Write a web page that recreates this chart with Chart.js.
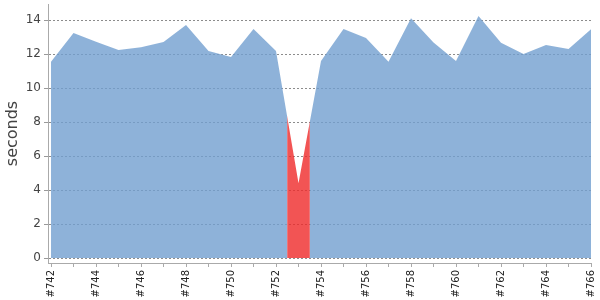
<!DOCTYPE html>
<html><head><meta charset="utf-8">
<script src="https://cdn.jsdelivr.net/npm/chart.js@4/dist/chart.umd.min.js"></script>
<style>html,body{margin:0;padding:0;background:#fff}#wrap{width:600px;height:300px}</style>
</head><body><div id="wrap"><canvas id="c" width="600" height="300"></canvas></div>
<script>
const builds = ['#742','#743','#744','#745','#746','#747','#748','#749','#750','#751','#752','#753','#754','#755','#756','#757','#758','#759','#760','#761','#762','#763','#764','#765','#766'];
const durations = [11.56,13.25,12.74,12.25,12.41,12.72,13.72,12.19,11.84,13.49,12.19,4.41,11.6,13.49,12.96,11.56,14.12,12.7,11.6,14.25,12.68,12.02,12.55,12.31,13.47];
const failedBuilds = ['#753'];
const yTicks = [0,2,4,6,8,10,12,14];
const xLabelEvery = 2;

const failIdx = failedBuilds.map(b => builds.indexOf(b));
const points = durations.map((v, i) => ({x: i, y: v}));

function applyClip(chart, dsIndex) {
  const {ctx, chartArea: a, scales: {x}} = chart;
  const ds = chart.data.datasets[dsIndex];
  ctx.save();
  ctx.beginPath();
  if (!ds.failedOnly) ctx.rect(a.left, 0, a.right - a.left, chart.height);
  failIdx.forEach(i => {
    const l = x.getPixelForValue(i - 0.5), r = x.getPixelForValue(i + 0.5);
    ctx.rect(l, 0, r - l, chart.height);
  });
  ctx.clip('evenodd');
}
const columnClip = {
  id: 'columnClip',
  beforeDatasetsDraw(chart) {
    const m = chart.getSortedVisibleDatasetMetas();
    applyClip(chart, m[m.length - 1].index);
  },
  afterDatasetDraw(chart, args) {
    chart.ctx.restore();
    const m = chart.getSortedVisibleDatasetMetas();
    const pos = m.findIndex(mm => mm.index === args.index);
    if (pos > 0) applyClip(chart, m[pos - 1].index);
  }
};

const FONT = 'DejaVu Sans';
new Chart(document.getElementById('c'), {
  type: 'line',
  data: {
    datasets: [
      {label: 'failed', failedOnly: true, data: points, fill: 'origin', backgroundColor: 'rgba(239,41,41,0.8)', borderWidth: 0, pointRadius: 0, tension: 0},
      {label: 'duration', data: points, fill: 'origin', backgroundColor: 'rgba(114,159,207,0.8)', borderWidth: 0, pointRadius: 0, tension: 0}
    ]
  },
  plugins: [columnClip],
  options: {
    responsive: false,
    devicePixelRatio: 1,
    animation: false,
    layout: {padding: {top: 4, right: 9, left: 0, bottom: 0}},
    plugins: {legend: {display: false}, tooltip: {enabled: false}},
    scales: {
      x: {
        type: 'linear',
        min: -0.134,
        max: builds.length - 1,
        afterBuildTicks: s => { s.ticks = builds.map((_, i) => ({value: i})); },
        afterFit: s => { s.height = 37; s.paddingLeft = 0; s.paddingRight = 0; },
        grid: {drawOnChartArea: false, drawTicks: true, tickLength: 4, color: '#aaa'},
        border: {display: true, color: '#aaa'},
        ticks: {
          autoSkip: false, minRotation: 90, maxRotation: 90, padding: 3,
          color: '#222', font: {family: FONT, size: 10},
          callback: v => (Number.isInteger(v) && v % xLabelEvery === 0) ? builds[v] : ''
        }
      },
      y: {
        min: -0.29,
        max: 14.96,
        afterBuildTicks: s => { s.ticks = yTicks.map(v => ({value: v})); },
        afterFit: s => { s.width = 48; s.paddingTop = 0; s.paddingBottom = 0; },
        grid: {color: 'rgba(0,0,0,0.45)', tickColor: '#999', tickLength: 4, lineWidth: 1},
        border: {display: true, color: '#aaa', dash: [2, 2]},
        ticks: {color: '#444', font: {family: FONT, size: 12}, padding: 3},
        title: {display: true, text: 'seconds', color: '#444', font: {family: FONT, size: 16}, padding: {top: 3, bottom: 0}}
      }
    }
  }
});
</script>
</body></html>
